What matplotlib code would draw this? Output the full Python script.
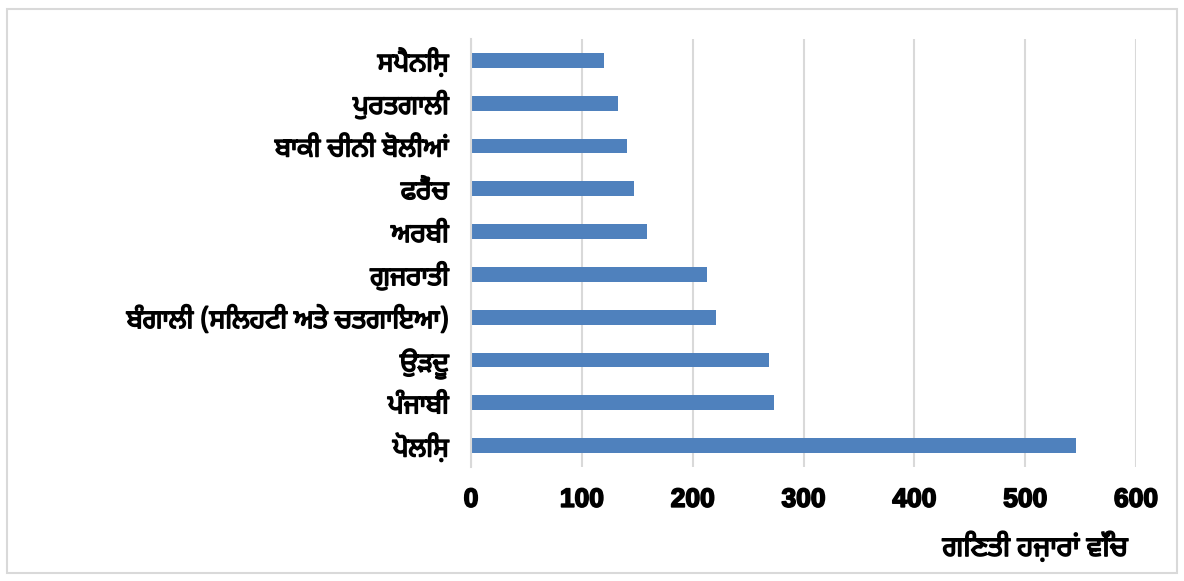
import matplotlib.pyplot as plt
import matplotlib.patheffects as pe
from matplotlib.patches import Rectangle

# data, bottom to top
languages = ['ਪੋਲਿਸ਼', 'ਪੰਜਾਬੀ', 'ਉੜਦੂ', 'ਬੰਗਾਲੀ (ਸਿਲਹਟੀ ਅਤੇ ਚਤਗਾਇਆ)', 'ਗੁਜਰਾਤੀ',
             'ਅਰਬੀ', 'ਫਰੈਂਚ', 'ਬਾਕੀ ਚੀਨੀ ਬੋਲੀਆਂ', 'ਪੁਰਤਗਾਲੀ', 'ਸਪੈਨਿਸ਼']
speakers = [546, 273, 269, 221, 213, 159, 147, 141, 133, 120]
x_ticks = [0, 100, 200, 300, 400, 500, 600]
x_title = 'ਗਿਣਤੀ ਹਜ਼ਾਰਾਂ ਵਿੱਚ'

plt.rcParams['font.family'] = ['Noto Sans Gurmukhi', 'Lohit Gurmukhi', 'Liberation Sans', 'DejaVu Sans']
plt.rcParams['font.weight'] = 'bold'

# no bold face comes out here, so thicken the text with a stroke
fake_bold = [pe.withStroke(linewidth=1.1, foreground='black')]
digit_bold = [pe.withStroke(linewidth=1.2, foreground='black')]

fig = plt.figure(figsize=(11.84, 5.81), dpi=100)
ax = fig.add_axes([471 / 1184, 1 - 467 / 581, 665 / 1184, 428 / 581])

ax.barh(languages, speakers, height=0.35, color='#4f81bd')
ax.set_xlim(0, 600)
ax.set_ylim(-0.5, len(languages) - 0.5)
ax.set_xticks(x_ticks)
ax.set_xticklabels([str(t) for t in x_ticks], family='Liberation Sans',
                   fontweight='bold', fontsize=19, path_effects=digit_bold)
ax.tick_params(axis='x', length=0, pad=15)
ax.tick_params(axis='y', length=0, labelsize=19, pad=16)
for lbl in ax.get_yticklabels():
    lbl.set_path_effects(fake_bold)

ax.grid(axis='x', color='#d9d9d9', linewidth=1.5)
ax.set_axisbelow(True)
for side in ['top', 'right', 'bottom']:
    ax.spines[side].set_visible(False)
ax.spines['left'].set_color('#d9d9d9')
ax.spines['left'].set_linewidth(1.5)

fig.text(1128 / 1184, 1 - 548 / 581, x_title, ha='right', va='center',
         fontsize=20, fontweight='bold', path_effects=fake_bold)

# chart border
fig.patches.append(Rectangle((7 / 1184, 8 / 581), 1170 / 1184, 564 / 581,
                             transform=fig.transFigure, fill=False,
                             edgecolor='#d9d9d9', linewidth=1.5))

fig.savefig('out.png', dpi=100)
